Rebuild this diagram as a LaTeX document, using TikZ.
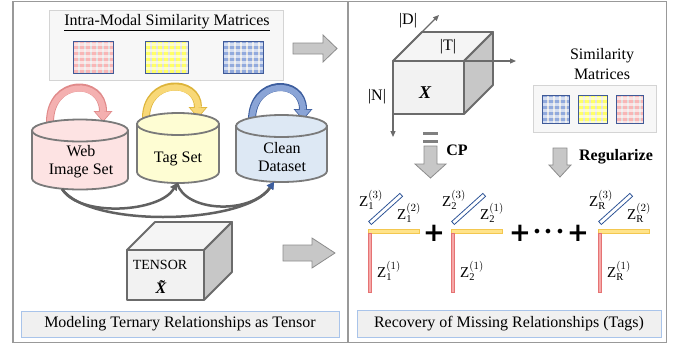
\documentclass[tikz,border=0pt]{standalone}
\usepackage{fontspec}
\setmainfont{Liberation Serif}
\newfontfamily\plusfont{DejaVu Sans}
\usetikzlibrary{arrows.meta}
\definecolor{capblue}{HTML}{A9C4EA}
\definecolor{cpink}{HTML}{FDE3E3}
\definecolor{cyell}{HTML}{FEFDD3}
\definecolor{cblue}{HTML}{DDE8F4}
\definecolor{mpink}{HTML}{F8B6B6}
\definecolor{myell}{HTML}{FFFF66}
\definecolor{mblue}{HTML}{92AADD}
\definecolor{mline}{HTML}{3F5A98}
\definecolor{apink}{HTML}{F4B0B0}
\definecolor{apinkd}{HTML}{E08A8A}
\definecolor{ayell}{HTML}{F8D877}
\definecolor{ayelld}{HTML}{DDB43A}
\definecolor{ablue}{HTML}{8AA4D6}
\definecolor{ablued}{HTML}{3D5E9E}
\definecolor{zgold}{HTML}{FFE38A}
\definecolor{zgoldd}{HTML}{F3C74F}
\definecolor{zred}{HTML}{F6A8A8}
\definecolor{zredd}{HTML}{E57373}
\definecolor{zblue}{HTML}{2F5597}

\newcommand\simmat[5]{%
  \fill[black!12] (#1,#2) rectangle ++(#3,#4);
  \begin{scope}
    \clip (#1,#2) rectangle ++(#3,#4);
    \foreach \k in {1,7,...,#3} \fill[#5] (#1+\k,#2) rectangle ++(3.5,#4);
    \foreach \k in {2,8,...,#4} \fill[white,opacity=.6] (#1,#2+\k) rectangle ++(#3,2.5);
  \end{scope}
  \draw[mline,line width=.9pt] (#1,#2) rectangle ++(#3,#4);}

\begin{document}
\begin{tikzpicture}[x=1pt,y=-1pt,
  every node/.style={font=\fontsize{16}{18}\selectfont, inner sep=0pt, align=center},
  panel/.style={draw=black!40, line width=1.2pt},
  lightbox/.style={fill=black!3, draw=black!17, line width=.8pt},
  capbox/.style={fill=black!6, draw=capblue, line width=.8pt},
  blockarrow/.style={fill=black!22, draw=black!45, line width=.8pt, line join=miter},
  cube/.style={draw=black!58, line width=1.8pt, line join=round},
  cyl/.style={draw=black!52, line width=1.8pt},
  axis/.style={draw=black!58, line width=1.2pt, -{Triangle[length=6pt,width=5pt]}},
  flow/.style={draw=black!62, line width=2.5pt, -{Triangle[length=7pt,width=8pt,line width=0pt]}},
  zlab/.style={font=\fontsize{15}{15}\selectfont},
  plussign/.style={font=\plusfont\bfseries\fontsize{26}{26}\selectfont}]
\useasboundingbox (0,0) rectangle (680,349);
\draw[panel] (13,1.5) rectangle (666.5,342.5);
\draw[panel] (348,1.5) -- (348,342.5);

\draw[lightbox] (49,10) rectangle (283,80);
\node (simtitle) at (167,23) {\underline{Intra-Modal Similarity Matrices}};
\simmat{73}{41}{40}{32}{mpink}
\simmat{145}{41}{43}{32}{myell}
\simmat{223}{41}{40}{32}{mblue}
\draw[blockarrow] (293,43) -- (323,43) -- (323,35) -- (337,48.5) -- (323,62) -- (323,54) -- (293,54) -- cycle;

\foreach \a/\b/\y/\c/\d in {50/103/122/apink/apinkd, 146/198/118/ayell/ayelld, 252/303/120/ablue/ablued}
{\draw[draw=\d, line width=8pt, -{Triangle[length=11pt,width=19pt,line width=0pt,fill=\d]}] (\a,\y) .. controls (\a,78) and (\b,78) .. (\b,\y);
 \draw[draw=\c, line width=6pt, -{Triangle[length=9pt,width=15.5pt,line width=0pt,fill=\c]}] (\a,\y+0.5) .. controls (\a,79) and (\b,79) .. (\b,\y-1.2);}

\foreach \cx/\rx/\yt/\yb/\col in {80/48/130.5/178.5/cpink, 178/41/124/172/cyell, 281.5/45.5/126/171/cblue}
{\filldraw[cyl, fill=\col] (\cx-\rx,\yt) -- (\cx-\rx,\yb) arc[start angle=180,end angle=0,x radius=\rx,y radius=11] -- (\cx+\rx,\yt) -- cycle;
 \filldraw[cyl, fill=\col] (\cx,\yt) ellipse[x radius=\rx,y radius=11];}
\node (web) at (81,161.5) {Web\\Image Set};
\node (tag) at (178,159) {Tag Set};
\node (clean) at (282,157.5) {Clean\\Dataset};

\coordinate (webB) at (62,189);
\coordinate (tagB) at (177,183);
\coordinate (cleanB) at (274,182);
\draw[flow] (webB) .. controls (80,218) and (160,212) .. (tagB);
\draw[flow, -{Triangle[length=7pt,width=8pt,line width=0pt,fill=ablued]}] (tagB) .. controls (185,212) and (250,215) .. (cleanB);
\draw[flow, -{Triangle[length=7pt,width=8pt,line width=0pt,fill=ablued]}] (webB) .. controls (90,228) and (245,225) .. (cleanB);

\filldraw[cube, fill=black!5] (127,250) rectangle (204,300);
\filldraw[cube, fill=black!4] (127,250) -- (155,222) -- (232,222) -- (204,250) -- cycle;
\filldraw[cube, fill=black!22] (204,250) -- (232,222) -- (232,272) -- (204,300) -- cycle;
\node (tensor) at (160,265) {\fontsize{14}{16}\selectfont TENSOR};
\node (xtilde) at (161,287) {\bfseries\itshape\~{X}};
\draw[blockarrow] (283,245) -- (312,245) -- (312,238) -- (335,253) -- (312,268) -- (312,261) -- (283,261) -- cycle;
\node[capbox, minimum width=318, minimum height=26] (capL) at (180,324) {Modeling Ternary Relationships as Tensor};

\filldraw[cube, fill=black!5] (393,61) rectangle (464,114);
\filldraw[cube, fill=black!4] (393,61) -- (422,32) -- (493,32) -- (464,61) -- cycle;
\filldraw[cube, fill=black!22] (464,61) -- (493,32) -- (493,85) -- (464,114) -- cycle;
\coordinate (org) at (393,61);
\draw[axis] (org) -- (439,15);
\draw[axis] (org) -- (516,61);
\draw[axis] (org) -- (393,137);
\node (dlab) at (408,21) {|D|};
\node (tlab) at (448,47) {|T|};
\node (nlab) at (377,97) {|N|};
\node (chi) at (425,93) {\fontsize{18}{18}\selectfont\bfseries\itshape X};

\fill[black!50] (423,131.5) rectangle (438,134.5);
\fill[black!50] (423,140) rectangle (438,143);
\draw[blockarrow] (424,146) -- (437,146) -- (437,164) -- (446,164) -- (430.5,178) -- (415,164) -- (424,164) -- cycle;
\node (cp) at (457,150) {\bfseries CP};

\node (simlab) at (602,64) {Similarity\\[2pt]Matrices};
\draw[lightbox] (533,85) rectangle (656,132);
\simmat{542}{95}{27}{28}{mblue}
\simmat{578}{95}{29}{28}{myell}
\simmat{616}{95}{27}{28}{mpink}
\draw[blockarrow] (553,148) -- (567,148) -- (567,165) -- (571,165) -- (560,177) -- (549,165) -- (553,165) -- cycle;
\node (reg) at (616,157) {\bfseries Regularize};

\foreach \x/\s/\m in {368/1/2, 451/2/1, 598/R/2}
{\filldraw[fill=zgold, draw=zgoldd, line width=.8pt] (\x,229) rectangle ++(51,4);
 \filldraw[fill=zred, draw=zredd, line width=.8pt] (\x+0.5,233) rectangle ++(3,59);
 \draw[zblue, line width=.8pt, shift={(\x+2,223)}, rotate=42] (0,-2) rectangle (42,2);
 \node[zlab] (z3\s) at (\x+3,200) {$\mathrm{Z}_{\mathrm{\s}}^{(3)}$};
 \node[zlab] (z2\s) at (\x+41,213) {$\mathrm{Z}_{\mathrm{\s}}^{(\m)}$};
 \node[zlab] (z1\s) at (\x+21,271) {$\mathrm{Z}_{\mathrm{\s}}^{(1)}$};}
\foreach \x [count=\n] in {434,520,578}
 \node[plussign] (plus\n) at (\x,233) {+};
\foreach \x [count=\n] in {537,548,560}
 \node[font=\plusfont\fontsize{16}{16}\selectfont] (dot\n) at (\x,233) {•};
\node[capbox, minimum width=304, minimum height=27] (capR) at (509,323.5) {Recovery of Missing Relationships (Tags)};
\end{tikzpicture}
\end{document}
